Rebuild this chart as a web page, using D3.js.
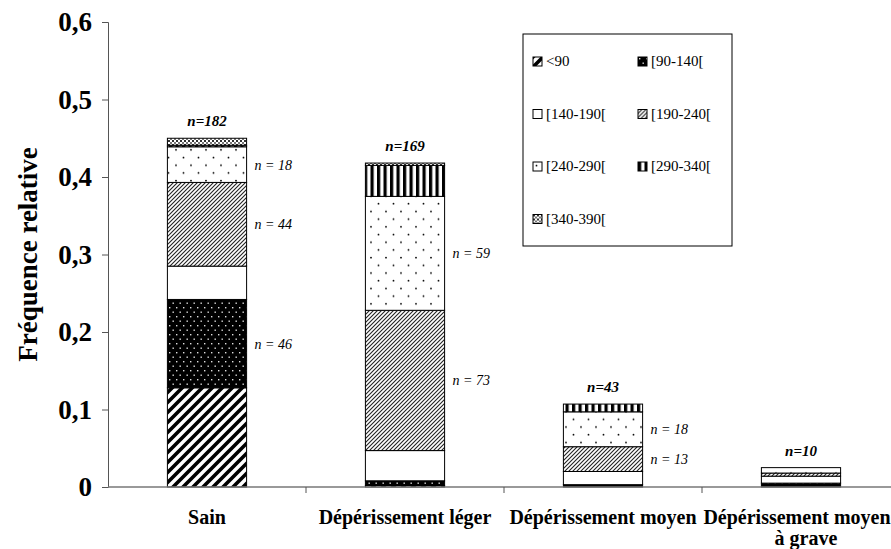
<!DOCTYPE html>
<html>
<head>
<meta charset="utf-8">
<script src="https://cdn.jsdelivr.net/npm/d3@7"></script>
<style>
  body { margin: 0; background: #fff; }
</style>
</head>
<body>
<div id="chart"></div>
<script>
var categories = ["Sain", "Dépérissement léger", "Dépérissement moyen", "Dépérissement moyen à grave"];
var classNames = ["<90", "[90-140[", "[140-190[", "[190-240[", "[240-290[", "[290-340[", "[340-390["];

// relative frequency of each diameter class, per category
var lt90 = [0.128, 0.002, 0.000, 0.000];
var c90_140 = [0.114, 0.006, 0.003, 0.005];
var c140_190 = [0.043, 0.039, 0.017, 0.009];
var c190_240 = [0.108, 0.181, 0.032, 0.004];
var c240_290 = [0.046, 0.147, 0.045, 0.007];
var c290_340 = [0.002, 0.040, 0.010, 0.000];
var c340_390 = [0.009, 0.003, 0.000, 0.000];

var totalLabels = ["n=182", "n=169", "n=43", "n=10"];

// side notes: category index, class index, text
var sideNotes = [
  [0, 4, "n = 18"], [0, 3, "n = 44"], [0, 1, "n = 46"],
  [1, 4, "n = 59"], [1, 3, "n = 73"],
  [2, 4, "n = 18"], [2, 3, "n = 13"]
];

var yTicks = [0, 0.1, 0.2, 0.3, 0.4, 0.5, 0.6];

var width = 891, height = 549;
var margin = { top: 22, left: 108, bottom: 62 };
var bandW = 198;
var serif = "'Liberation Serif', 'Times New Roman', serif";

var seriesValues = [lt90, c90_140, c140_190, c190_240, c240_290, c290_340, c340_390];
var rows = categories.map(function(c, i) {
  var r = { cat: c };
  classNames.forEach(function(k, j) { r[k] = seriesValues[j][i]; });
  return r;
});
var stacked = d3.stack().keys(classNames)(rows);

var xScale = d3.scaleBand().domain(categories).range([margin.left, margin.left + 4 * bandW]).paddingInner(0.6).paddingOuter(0.3);
var yScale = d3.scaleLinear().domain([0, 0.6]).range([height - margin.bottom, margin.top]);

var svg = d3.select("#chart").append("svg").attr("width", width).attr("height", height)
  .attr("font-family", serif);

// patterns
var defs = svg.append("defs");
function pat(id, w, h) {
  return defs.append("pattern").attr("id", id).attr("patternUnits", "userSpaceOnUse").attr("width", w).attr("height", h);
}
var p0 = pat("p0", 10, 10);
p0.append("rect").attr("width", 10).attr("height", 10).attr("fill", "#fff");
p0.append("path").attr("d", "M-2,2 L2,-2 M0,10 L10,0 M8,12 L12,8").attr("stroke", "#000").attr("stroke-width", 3.6);

var p1 = pat("p1", 7, 9);
p1.append("rect").attr("width", 7).attr("height", 9).attr("fill", "#000");
p1.append("rect").attr("x", 1).attr("y", 1).attr("width", 1.4).attr("height", 1.4).attr("fill", "#ddd");
p1.append("rect").attr("x", 4.5).attr("y", 5.5).attr("width", 1.4).attr("height", 1.4).attr("fill", "#ddd");

var p3 = pat("p3", 4, 4);
p3.append("rect").attr("width", 4).attr("height", 4).attr("fill", "#fff");
p3.append("path").attr("d", "M-1,1 L1,-1 M0,4 L4,0 M3,5 L5,3").attr("stroke", "#222").attr("stroke-width", 1.1);

var p4 = pat("p4", 15, 15.4);
p4.append("rect").attr("width", 15).attr("height", 15.4).attr("fill", "#fff");
p4.append("circle").attr("cx", 3.5).attr("cy", 3.5).attr("r", 0.9).attr("fill", "#000");
p4.append("circle").attr("cx", 11).attr("cy", 11.2).attr("r", 0.9).attr("fill", "#000");

var p5 = pat("p5", 6.5, 6);
p5.append("rect").attr("width", 6.5).attr("height", 6).attr("fill", "#fff");
p5.append("rect").attr("x", 0).attr("width", 3.2).attr("height", 6).attr("fill", "#000");

var p6 = pat("p6", 4, 4);
p6.append("rect").attr("width", 4).attr("height", 4).attr("fill", "#fff");
p6.append("rect").attr("width", 2).attr("height", 2).attr("fill", "#333");
p6.append("rect").attr("x", 2).attr("y", 2).attr("width", 2).attr("height", 2).attr("fill", "#777");

var fills = ["url(#p0)", "url(#p1)", "#fff", "url(#p3)", "url(#p4)", "url(#p5)", "url(#p6)"];

// bars
svg.selectAll("g.layer").data(stacked).enter().append("g").attr("class", "layer")
  .attr("fill", function(d, i) { return fills[i]; })
  .selectAll("rect").data(function(d) { return d.filter(function(s) { return s[1] - s[0] > 0; }); })
  .enter().append("rect")
  .attr("x", function(d) { return xScale(d.data.cat); })
  .attr("y", function(d) { return yScale(d[1]); })
  .attr("width", xScale.bandwidth())
  .attr("height", function(d) { return yScale(d[0]) - yScale(d[1]); })
  .attr("stroke", "#000").attr("stroke-width", 1);

// y axis
var yAxis = svg.append("g").attr("transform", "translate(" + margin.left + ",0)")
  .call(d3.axisLeft(yScale).tickValues(yTicks).tickSize(6).tickPadding(10)
    .tickFormat(function(d) { return d === 0 ? "0" : d3.format(".1f")(d).replace(".", ","); }));
yAxis.attr("font-family", serif);
yAxis.select(".domain").attr("stroke", "#555");
yAxis.selectAll(".tick line").attr("stroke", "#555");
yAxis.selectAll("text").attr("font-size", 27).attr("font-weight", "bold").attr("fill", "#000");

// x axis
var x0 = yScale(0);
var xg = svg.append("g").attr("transform", "translate(0," + x0 + ")");
xg.append("line").attr("x1", margin.left).attr("x2", width).attr("stroke", "#777").attr("stroke-width", 1.5);
xg.selectAll("line.tk").data(categories.slice(1)).enter().append("line").attr("class", "tk")
  .attr("x1", function(d) { return xScale(d) - (xScale.step() - xScale.bandwidth()) / 2; })
  .attr("x2", function(d) { return xScale(d) - (xScale.step() - xScale.bandwidth()) / 2; })
  .attr("y1", 0).attr("y2", 6).attr("stroke", "#555");

var catLabel = svg.append("g").selectAll("text").data(categories).enter().append("text")
  .attr("x", function(d) { return xScale(d) + xScale.bandwidth() / 2; })
  .attr("y", x0 + 37)
  .attr("text-anchor", "middle").attr("font-size", 20).attr("font-weight", "bold");
catLabel.each(function(d) {
  var t = d3.select(this);
  if (d === "Dépérissement moyen à grave") {
    var cx = xScale(d) + xScale.bandwidth() / 2;
    t.append("tspan").attr("x", cx - 4).text("Dépérissement moyen");
    t.append("tspan").attr("x", cx + 5).attr("dy", 21).text("à grave");
  } else {
    t.text(d);
  }
});

// y title
svg.append("text")
  .attr("transform", "translate(37," + yScale(0.3) + ") rotate(-90)")
  .attr("text-anchor", "middle").attr("font-size", 27).attr("font-weight", "bold")
  .text("Fréquence relative");

// totals above bars
var topLayer = stacked[stacked.length - 1];
svg.selectAll("text.total").data(totalLabels).enter().append("text").attr("class", "total")
  .attr("x", function(d, i) { return xScale(categories[i]) + xScale.bandwidth() / 2; })
  .attr("y", function(d, i) { return yScale(topLayer[i][1]) - 12; })
  .attr("text-anchor", "middle").attr("font-size", 15).attr("font-weight", "bold").attr("font-style", "italic")
  .text(function(d) { return d; });

// side notes
svg.selectAll("text.side").data(sideNotes).enter().append("text").attr("class", "side")
  .attr("x", function(d) { return xScale(categories[d[0]]) + xScale.bandwidth() + 8; })
  .attr("y", function(d) {
    var s = stacked[d[1]][d[0]];
    return (yScale(s[0]) + yScale(s[1])) / 2 + 5;
  })
  .attr("font-size", 14).attr("font-style", "italic")
  .text(function(d) { return d[2]; });

// legend
var lg = svg.append("g").attr("transform", "translate(523,34)");
lg.append("rect").attr("width", 209).attr("height", 212).attr("fill", "#fff").attr("stroke", "#000");
var items = lg.selectAll("g.item").data(classNames).enter().append("g").attr("class", "item")
  .attr("transform", function(d, i) { return "translate(" + (10 + (i % 2) * 105) + "," + (23 + Math.floor(i / 2) * 52.5) + ")"; });
items.append("rect").attr("width", 9).attr("height", 9)
  .attr("fill", function(d, i) { return fills[i]; }).attr("stroke", "#000");
items.append("text").attr("x", 13).attr("y", 9).attr("font-size", 15).text(function(d) { return d; });
</script>
</body>
</html>
